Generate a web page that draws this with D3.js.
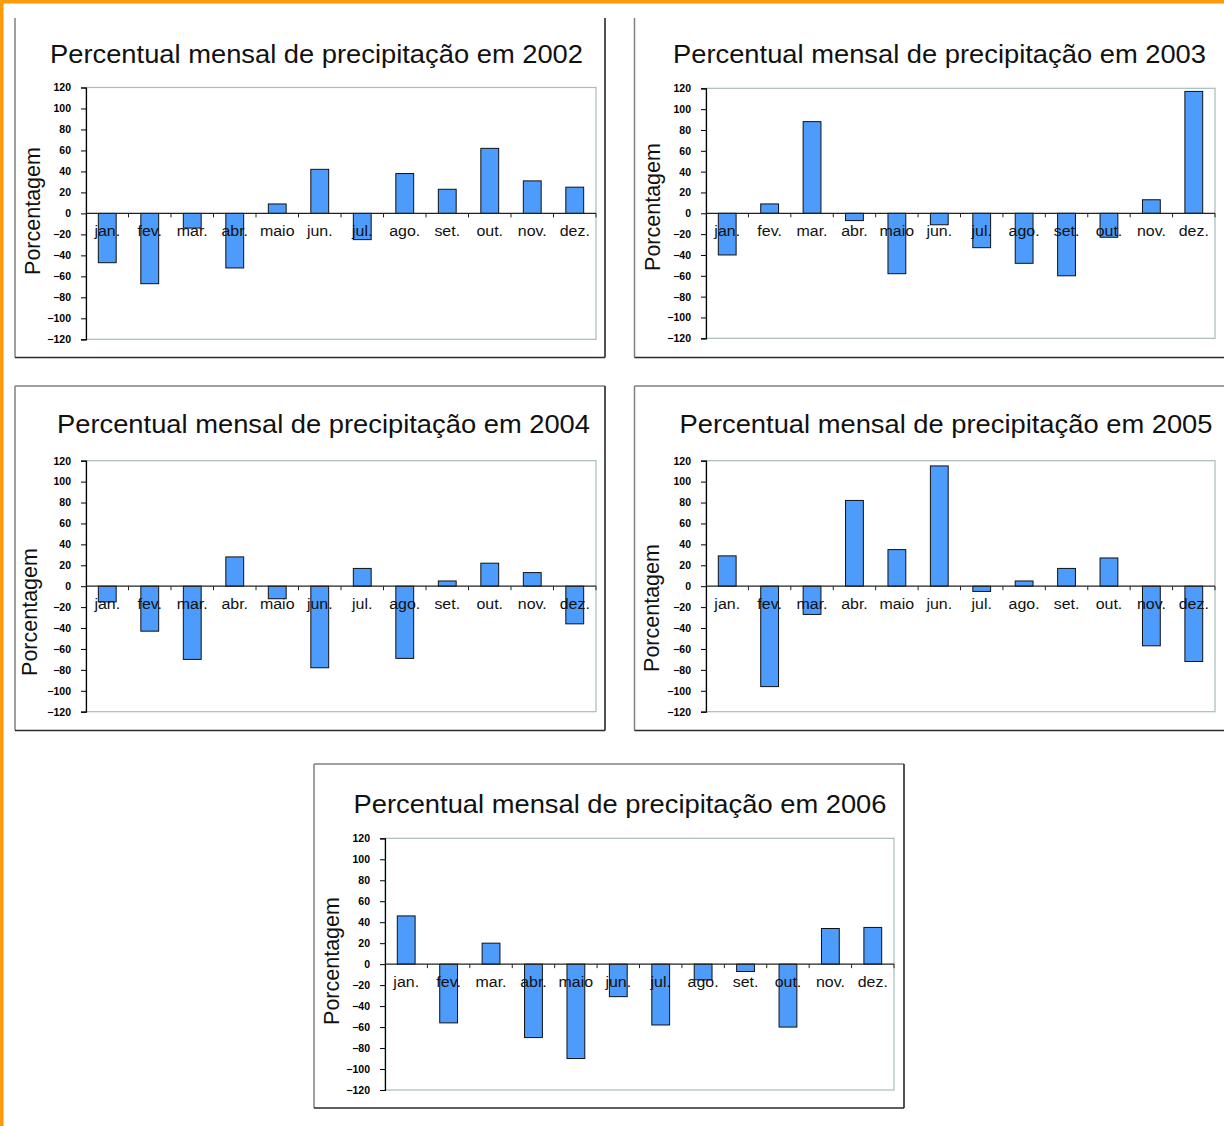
<!DOCTYPE html>
<html>
<head>
<meta charset="utf-8">
<script src="https://cdn.jsdelivr.net/npm/d3@7"></script>
<style>
  html, body { margin: 0; padding: 0; background: #fff; }
  svg { display: block; }
  text { font-family: "Liberation Sans", Arial, sans-serif; }
</style>
</head>
<body>
<svg id="chart" width="1224" height="1126"></svg>
<script>
// Monthly precipitation deviation (%) per year
const months = ["jan.", "fev.", "mar.", "abr.", "maio", "jun.", "jul.", "ago.", "set.", "out.", "nov.", "dez."];
const years = [2002, 2003, 2004, 2005, 2006];
const pct2002 = [-47, -67, -14, -52, 9, 42, -25, 38, 23, 62, 31, 25];
const pct2003 = [-40, 9, 88, -7, -58, -11, -33, -48, -60, -23, 13, 117];
const pct2004 = [-15, -43, -70, 28, -12, -78, 17, -69, 5, 22, 13, -36];
const pct2005 = [29, -96, -27, 82, 35, 115, -5, 5, 17, 27, -57, -72];
const pct2006 = [46, -56, 20, -70, -90, -31, -58, -15, -7, -60, 34, 35];
const yTicks = [120, 100, 80, 60, 40, 20, 0, -20, -40, -60, -80, -100, -120];
const titlePrefix = "Percentual mensal de precipitação em ";
const yTitle = "Porcentagem";

const seriesByYear = [pct2002, pct2003, pct2004, pct2005, pct2006];

// Panel frames and plot rectangles
const layout = [
  { box: [15, 13, 605, 357.5], openTop: true, openRight: false, plot: [86, 87.5, 596, 339.3], title: [316.5, 62.7], ylab: [34, 211] },
  { box: [634.5, 13, 1230, 357.5], openTop: true, openRight: true, plot: [706, 88.3, 1215, 338.3], title: [939.5, 62.7], ylab: [654.5, 207] },
  { box: [15, 386, 605, 730.5], openTop: false, openRight: false, plot: [86, 460.7, 596, 711.7], title: [323.5, 433], ylab: [31, 612] },
  { box: [634.5, 386, 1230, 730.5], openTop: false, openRight: true, plot: [706, 460.7, 1215, 711.7], title: [946, 432.5], ylab: [653.5, 608] },
  { box: [314, 764, 904, 1108], openTop: false, openRight: false, plot: [385, 838.3, 894, 1090], title: [620, 813], ylab: [333, 961] }
];

const svg = d3.select("#chart");

// Orange page edges
svg.append("rect").attr("x", 0).attr("y", 0).attr("width", 1224).attr("height", 3.5).attr("fill", "#FF9A0A");
svg.append("rect").attr("x", 0).attr("y", 0).attr("width", 3.5).attr("height", 1126).attr("fill", "#FF9A0A");

years.forEach((year, i) => {
  const L = layout[i];
  const data = seriesByYear[i].map((v, k) => ({ month: months[k], value: v }));
  const g = svg.append("g");
  const [bx0, by0, bx1, by1] = L.box;

  // Panel frame: light top/left, dark right/bottom
  const frameTop = L.openTop ? by0 + 5 : by0;
  if (!L.openTop) {
    g.append("line").attr("x1", bx0).attr("x2", bx1).attr("y1", by0).attr("y2", by0)
      .attr("stroke", "#808080").attr("stroke-width", 1.5);
  }
  g.append("line").attr("x1", bx0).attr("x2", bx0).attr("y1", frameTop).attr("y2", by1)
    .attr("stroke", "#808080").attr("stroke-width", 1.5);
  if (!L.openRight) {
    g.append("line").attr("x1", bx1).attr("x2", bx1).attr("y1", frameTop).attr("y2", by1)
      .attr("stroke", "#1a1a1a").attr("stroke-width", 1.5);
  }
  g.append("line").attr("x1", bx0).attr("x2", bx1).attr("y1", by1).attr("y2", by1)
    .attr("stroke", "#2a2a2a").attr("stroke-width", 1.5);

  const [px0, py0, px1, py1] = L.plot;
  const x = d3.scaleBand().domain(months).range([px0, px1]).paddingInner(0.58).paddingOuter(0.29);
  const y = d3.scaleLinear().domain([-120, 120]).range([py1, py0]);

  // Title
  g.append("text")
    .attr("x", L.title[0]).attr("y", L.title[1])
    .attr("text-anchor", "middle")
    .attr("font-size", 25)
    .attr("fill", "#111")
    .attr("textLength", 533)
    .attr("lengthAdjust", "spacingAndGlyphs")
    .text(titlePrefix + year);

  // Plot area outline
  g.append("rect")
    .attr("x", px0).attr("y", py0).attr("width", px1 - px0).attr("height", py1 - py0)
    .attr("fill", "none").attr("stroke", "#A6BCBC").attr("stroke-width", 1.2);

  // Y axis
  const yAxis = d3.axisLeft(y).tickValues(yTicks).tickSize(5).tickPadding(10).tickFormat(d3.format("d"));
  const ya = g.append("g").attr("transform", `translate(${px0},0)`).call(yAxis);
  ya.select(".domain").attr("stroke", "#000").attr("stroke-width", 1.2);
  ya.selectAll(".tick line").attr("stroke", "#000").attr("stroke-width", 1);
  ya.selectAll(".tick text")
    .attr("font-family", "'Liberation Sans', Arial, sans-serif")
    .attr("font-size", 10.5).attr("font-weight", "bold").attr("fill", "#000");

  // Bars
  g.append("g").selectAll("rect").data(data).join("rect")
    .attr("x", d => x(d.month))
    .attr("width", x.bandwidth())
    .attr("y", d => y(Math.max(0, d.value)))
    .attr("height", d => Math.abs(y(d.value) - y(0)))
    .attr("fill", "#4D9BFA")
    .attr("stroke", "#111").attr("stroke-width", 1);

  // Zero line with category separators
  const zeroY = y(0);
  g.append("line").attr("x1", px0).attr("x2", px1).attr("y1", zeroY).attr("y2", zeroY)
    .attr("stroke", "#222").attr("stroke-width", 1.2);
  const step = x.step();
  g.append("g").selectAll("line").data(months).join("line")
    .attr("x1", (d, k) => px0 + step * (k + 1))
    .attr("x2", (d, k) => px0 + step * (k + 1))
    .attr("y1", zeroY).attr("y2", zeroY + 4)
    .attr("stroke", "#222").attr("stroke-width", 1);

  // Month labels beside the zero line
  g.append("g").selectAll("text").data(data).join("text")
    .attr("transform", d => `translate(${x(d.month) + x.bandwidth() / 2},${zeroY + 23}) scale(1.1,1)`)
    .attr("text-anchor", "middle")
    .attr("font-size", 14.5)
    .attr("fill", "#111")
    .text(d => d.month);

  // Y axis title
  g.append("text")
    .attr("transform", `translate(${L.ylab[0] + 5.5},${L.ylab[1]}) rotate(-90)`)
    .attr("text-anchor", "middle")
    .attr("font-size", 21.5)
    .attr("fill", "#111")
    .text(yTitle);
});
</script>
</body>
</html>
